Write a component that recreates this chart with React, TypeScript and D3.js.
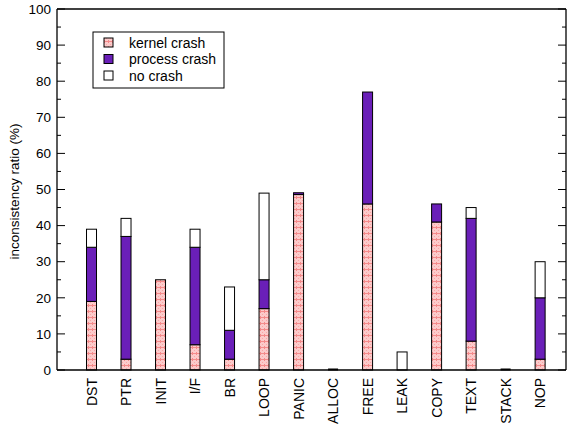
import React from "react";
import * as d3 from "d3";

const categories = ["DST", "PTR", "INIT", "I/F", "BR", "LOOP", "PANIC", "ALLOC", "FREE", "LEAK", "COPY", "TEXT", "STACK", "NOP"];
const kernelCrash = [19, 3, 25, 7, 3, 17, 48.6, 0, 46, 0, 41, 8, 0, 3];
const processCrash = [15, 34, 0, 27, 8, 8, 0.5, 0, 31, 0, 5, 34, 0, 17];
const noCrash = [5, 5, 0, 5, 12, 24, 0, 0, 0, 5, 0, 3, 0, 10];
const seriesNames = ["kernel crash", "process crash", "no crash"];
const yTicks = [0, 10, 20, 30, 40, 50, 60, 70, 80, 90, 100];

const W = 571, H = 425;
const left = 57, right = 566, top = 9, bottom = 370;

export default function App() {
  const x = d3.scaleLinear().domain([-1, 13.75]).range([left, right]);
  const y = d3.scaleLinear().domain([0, 100]).range([bottom, top]);
  const bw = 10;
  const series = [kernelCrash, processCrash, noCrash];
  const fills = ["url(#kpat)", "#6a1fb8", "#ffffff"];
  const minor = d3.range(5, 100, 10);
  const font = "'Liberation Sans', Arial, Helvetica, sans-serif";

  return (
    <svg width={W} height={H} style={{ position: "absolute", left: 0, top: 0 }} fontFamily={font}>
      <defs>
        <pattern id="kpat" width="4" height="6" patternUnits="userSpaceOnUse">
          <rect width="4" height="6" fill="#fccaca" />
          <rect x="0" y="0" width="1" height="1" fill="#f28a8a" />
          <rect x="2" y="2" width="1" height="1" fill="#f7a8a8" />
          <rect x="0" y="4" width="1" height="1" fill="#f28a8a" />
          <rect x="0" y="5" width="4" height="1" fill="#f06060" opacity="0.6" />
        </pattern>
      </defs>
      <rect width={W} height={H} fill="#fff" />
      {categories.map((c, i) => {
        let acc = 0;
        const total = kernelCrash[i] + processCrash[i] + noCrash[i];
        return (
          <g key={c}>
            {total === 0 && (
              <line x1={x(i) - bw / 2} x2={x(i) + bw / 2} y1={y(0) - 0.5} y2={y(0) - 0.5} stroke="#000" strokeWidth={2} />
            )}
            {series.map((s, k) => {
              const y0 = acc;
              const y1 = acc + s[i];
              acc = y1;
              if (s[i] === 0) return null;
              return (
                <rect key={k} x={x(i) - bw / 2} y={y(y1)} width={bw} height={Math.max(0, y(y0) - y(y1))}
                  fill={fills[k]} stroke="#000" strokeWidth={1} />
              );
            })}
          </g>
        );
      })}
      <line x1={left} y1={top} x2={left} y2={bottom} stroke="#000" strokeWidth={1.3} />
      <line x1={right} y1={top} x2={right} y2={bottom} stroke="#000" strokeWidth={1.3} />
      <line x1={left} y1={top} x2={right} y2={top} stroke="#000" strokeWidth={1.3} />
      <line x1={left} y1={bottom} x2={right} y2={bottom} stroke="#000" strokeWidth={1.3} />
      {yTicks.map((t) => (
        <g key={t}>
          <line x1={left} x2={left + 8} y1={y(t)} y2={y(t)} stroke="#000" />
          <line x1={right} x2={right - 8} y1={y(t)} y2={y(t)} stroke="#000" />
          <text x={left - 6} y={y(t)} dy="0.35em" textAnchor="end" fontSize={13.5}>{t}</text>
        </g>
      ))}
      {minor.map((t) => (
        <g key={t}>
          <line x1={left} x2={left + 4} y1={y(t)} y2={y(t)} stroke="#000" />
          <line x1={right} x2={right - 4} y1={y(t)} y2={y(t)} stroke="#000" />
        </g>
      ))}
      {categories.map((c, i) => (
        <text key={c} transform={`translate(${x(i) + 5},${bottom + 8}) rotate(-90)`} textAnchor="end" fontSize={14}>{c}</text>
      ))}
      <text transform={`translate(19,${(top + bottom) / 2 + 2}) rotate(-90)`} textAnchor="middle" fontSize={13.5}>inconsistency ratio (%)</text>
      <rect x={93} y={32} width={131} height={56} fill="#fff" stroke="#000" strokeWidth={1} />
      {seriesNames.map((n, k) => (
        <g key={n}>
          <rect x={104} y={38 + k * 16.5} width={9} height={9} fill={fills[k]} stroke="#000" />
          <text x={129} y={43 + k * 16.5} dy="0.35em" fontSize={14}>{n}</text>
        </g>
      ))}
    </svg>
  );
}
